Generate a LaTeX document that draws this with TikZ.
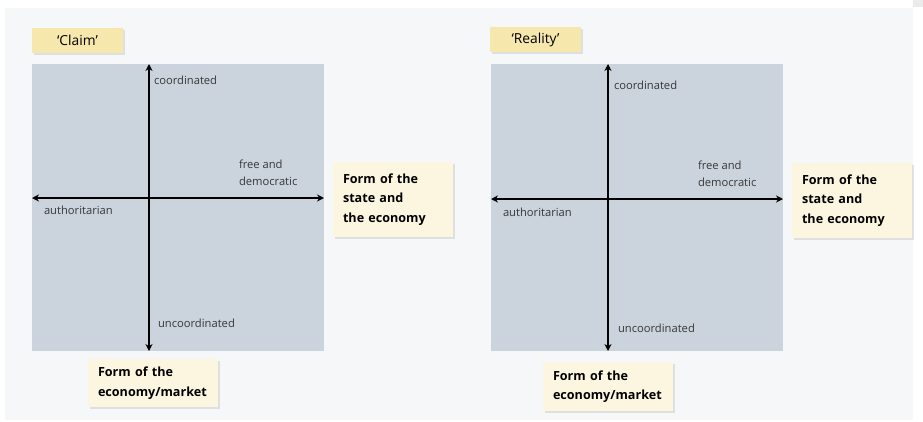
\documentclass[tikz,border=0pt]{standalone}
\usepackage{fontspec}
\setmainfont{Open Sans}
\usetikzlibrary{arrows.meta,shadows}
\definecolor{pagebg}{HTML}{F6F7F9}
\definecolor{panel}{HTML}{CBD3DD}
\definecolor{titlefill}{HTML}{F6E7AC}
\definecolor{notefill}{HTML}{FCF6E0}
\begin{document}
\begin{tikzpicture} [x=1pt, y=-1pt,
 every node/.style = {inner sep=0pt, outer sep=0pt},
 title/.style = {fill=titlefill, minimum width=91pt, minimum height=25pt,
 font=\fontsize{13.8}{15}\selectfont, drop shadow={opacity=0.2, shadow xshift=1.5pt, shadow yshift=-1.5pt}},
 note/.style = {fill=notefill, align=left, anchor=north west, inner xsep=10pt,
 font=\fontsize{12.6}{19.5}\selectfont\bfseries, drop shadow={opacity=0.2, shadow xshift=1.5pt, shadow yshift=-1.5pt}},
 axlabel/.style = {align=left, font=\fontsize{11.2}{16.5}\selectfont, text=black!78},
 axis/.style = {line width=1.4pt, {Stealth[length=7pt,width=7pt]}-{Stealth[length=7pt,width=7pt]}}]
 \useasboundingbox (0,0) rectangle (923,421);
 \fill [white] (0,0) rectangle (923,421);
 \fill [pagebg] (5,8) rectangle (913,420);
 \fill [black!8] (913,0) rectangle (923,7);

 % Claim
 \node (claim) [title] at (77.5,40.5) {‘Claim’};
 \fill [panel] (32,64) rectangle (324,351);
 \coordinate (cl) at (32,198); \coordinate (cr) at (324,198);
 \coordinate (ct) at (149,64); \coordinate (cb) at (149,351);
 \draw [axis] (cl) -- (cr);
 \draw [axis] (ct) -- (cb);
 \node (ccoord) [axlabel, anchor=west] at (154,80) {coordinated};
 \node (cfree) [axlabel, anchor=west] at (239,173) {free and\\democratic};
 \node (cauth) [axlabel, anchor=west] at (44,210) {authoritarian};
 \node (cunco) [axlabel, anchor=west] at (158,323) {uncoordinated};
 \node (cstate) [note, text width=100pt, minimum height=75pt] at (333,162)
 {Form of the\\state and\\the economy};
 \node (cmarket) [note, text width=110pt, minimum height=48pt] at (88,359)
 {Form of the\\economy/market};

 % Reality
 \node (reality) [title] at (535.5,39.5) {‘Reality’};
 \fill [panel] (491,64) rectangle (783,351);
 \coordinate (rl) at (491,199); \coordinate (rr) at (783,199);
 \coordinate (rt) at (608,64); \coordinate (rb) at (608,351);
 \draw [axis] (rl) -- (rr);
 \draw [axis] (rt) -- (rb);
 \node (rcoord) [axlabel, anchor=west] at (614,85) {coordinated};
 \node (rfree) [axlabel, anchor=west] at (698,174) {free and\\democratic};
 \node (rauth) [axlabel, anchor=west] at (503,212) {authoritarian};
 \node (runco) [axlabel, anchor=west] at (618,328) {uncoordinated};
 \node (rstate) [note, text width=100pt, minimum height=75pt] at (792,163)
 {Form of the\\state and\\the economy};
 \node (rmarket) [note, text width=110pt, minimum height=49pt] at (543,362)
 {Form of the\\economy/market};
\end{tikzpicture}
\end{document}
